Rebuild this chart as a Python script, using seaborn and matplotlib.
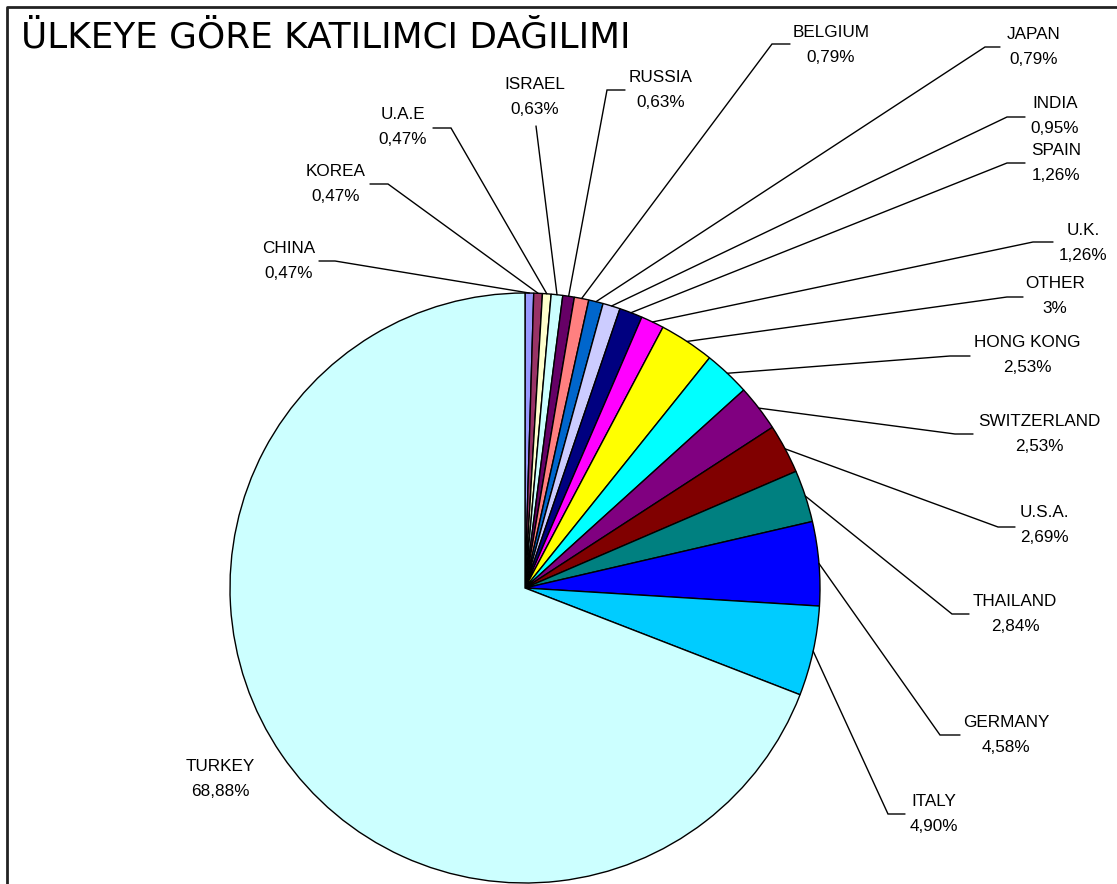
import numpy as np
import matplotlib
matplotlib.use("Agg")
import matplotlib.pyplot as plt
import seaborn as sns

# Participant share by country (%), clockwise from 12 o'clock
countries = ['CHINA', 'KOREA', 'U.A.E', 'ISRAEL', 'RUSSIA', 'BELGIUM', 'JAPAN',
             'INDIA', 'SPAIN', 'U.K.', 'OTHER', 'HONG KONG', 'SWITZERLAND',
             'U.S.A.', 'THAILAND', 'GERMANY', 'ITALY', 'TURKEY']
shares = [0.47, 0.47, 0.47, 0.63, 0.63, 0.79, 0.79, 0.95, 1.26, 1.26, 3,
          2.53, 2.53, 2.69, 2.84, 4.58, 4.90, 68.88]

# Excel-style slice colours
colors = ['#9999FF', '#993366', '#FFFFCC', '#CCFFFF', '#660066', '#FF8080',
          '#0066CC', '#CCCCFF', '#000080', '#FF00FF', '#FFFF00', '#00FFFF',
          '#800080', '#800000', '#008080', '#0000FF', '#00CCFF', '#CCFFFF']

# label layout in pixel coords: text centre (tx, ty), elbow (ex, ey), horizontal end hx
label_layout = {
    'CHINA': (289, 261, 335, 261, 319),
    'KOREA': (336, 184, 388, 184, 370),
    'U.A.E': (403, 127, 451, 128, 433),
    'ISRAEL': (535, 97, 536, 126, 536),
    'RUSSIA': (661, 90, 607, 90, 625),
    'BELGIUM': (831, 45, 772, 44, 790),
    'JAPAN': (1034, 47, 985, 47, 1000),
    'INDIA': (1055, 116, 1007, 117, 1025),
    'SPAIN': (1056, 163, 1007, 163, 1025),
    'U.K.': (1083, 243, 1033, 242, 1053),
    'OTHER': (1055, 296, 1007, 297, 1023),
    'HONG KONG': (1027, 355, 950, 356, 970),
    'SWITZERLAND': (1039, 434, 955, 434, 973),
    'U.S.A.': (1044, 525, 998, 527, 1015),
    'THAILAND': (1015, 614, 952, 614, 969),
    'GERMANY': (1006, 735, 940, 735, 960),
    'ITALY': (934, 814, 888, 814, 905),
    'TURKEY': (220, 779, None, None, None),
}

W, H = 1117, 884
CX, CY, R = 525, 588, 295

sns.set_theme(style="white")
plt.rcParams['font.family'] = ['Liberation Sans', 'DejaVu Sans']


def py(y):
    return H - y


def pct_text(v):
    if float(v).is_integer():
        return f"{int(v)}%"
    return f"{v:.2f}".replace('.', ',') + '%'


fig = plt.figure(figsize=(W / 100, H / 100), dpi=100)
ax = fig.add_axes([0, 0, 1, 1])

wedges, _ = ax.pie(shares, colors=colors, startangle=90, counterclock=False,
                   center=(CX, py(CY)), radius=R,
                   wedgeprops=dict(edgecolor='black', linewidth=1.0))

# pie() resets the limits, so set the pixel frame afterwards
ax.set_xlim(0, W)
ax.set_ylim(0, H)
ax.set_aspect('equal')
ax.axis('off')

for name, val, w in zip(countries, shares, wedges):
    tx, ty, ex, ey, hx = label_layout[name]
    ax.text(tx, py(ty), f"{name}\n{pct_text(val)}", ha='center', va='center',
            fontsize=12.3, linespacing=1.9, color='black')
    if ex is None:
        continue
    mid = np.deg2rad((w.theta1 + w.theta2) / 2)
    sx = CX + R * np.cos(mid)
    sy = py(CY) + R * np.sin(mid)
    ax.plot([sx, ex, hx], [sy, py(ey), py(ey)], color='black', lw=1.0,
            solid_joinstyle='miter')

# title and cropped frame
ax.text(21, py(37), 'ÜLKEYE GÖRE KATILIMCI DAĞILIMI', ha='left', va='center',
        fontsize=25.8, family=['DejaVu Sans'], color='black')
ax.plot([7, 7, W + 5], [-5, py(7), py(7)], color='#222222', lw=2, clip_on=False)

fig.savefig('out.png', dpi=100, facecolor='white')
